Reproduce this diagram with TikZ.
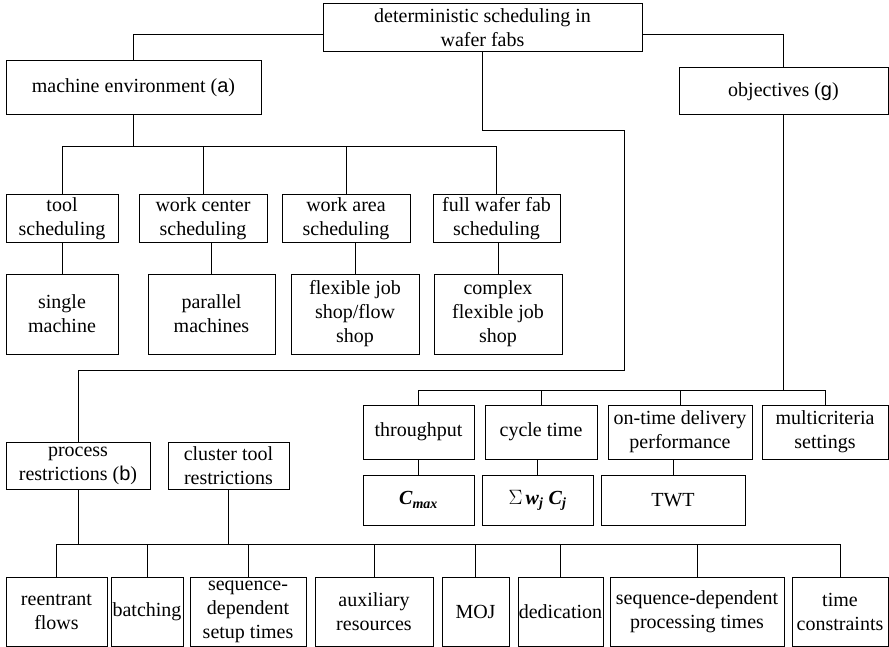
\documentclass[tikz,border=0pt]{standalone}
\usepackage{fontspec}
\setmainfont{Liberation Serif}
\newfontfamily\gkfont{Liberation Sans}
\usetikzlibrary{positioning,calc}

\begin{document}
\begin{tikzpicture}[x=1pt,y=-1pt,line width=1pt,
  box/.style={draw, align=center, inner sep=0pt,
    font=\fontsize{20}{24}\selectfont},
  bx/.style 2 args={box, minimum width=#1pt, minimum height=#2pt}]
  \useasboundingbox (0,0) rectangle (889,647);

  % root and first level
  \node[bx={319}{48}] (root) at (482.5,28) {deterministic scheduling in\\wafer fabs};
  \node[bx={255}{54}] (menv) at (133.5,88) {machine environment ({\gkfont a})};
  \node[bx={209}{47}] (obj) at (783.5,91.5) {objectives ({\gkfont g})};

  % machine environment
  \node[bx={112}{48}] (tool) at (62,219) {tool\\scheduling};
  \node[bx={128}{48}] (wcen) at (203,219) {work center\\scheduling};
  \node[bx={128}{48}] (warea) at (346,219) {work area\\scheduling};
  \node[bx={127}{48}] (full) at (496.5,219) {full wafer fab\\scheduling};
  \node[bx={112}{80}] (single) at (62,314) {single\\machine};
  \node[bx={127}{80}] (para) at (211.5,314) {parallel\\machines};
  \node[bx={128}{80}] (flex) at (355,314) {flexible job\\shop/flow\\shop};
  \node[bx={128}{80}] (cplx) at (498,314) {complex\\flexible job\\shop};

  % objectives
  \node[bx={111}{54}] (thru) at (418.5,432) {throughput};
  \node[bx={112}{54}] (cyc) at (541,432) {cycle time};
  \node[bx={144}{54}] (otd) at (680,432) {on-time delivery\\performance};
  \node[bx={126}{54}] (multi) at (825,432) {multicriteria\\settings};
  \node[bx={111}{50}] (cmax) at (418.5,500) {\textbf{\textit{C}}\textsubscript{\textbf{\textit{max}}}};
  \node[bx={111}{50}] (swc) at (537.5,500) {$\Sigma$\,\textbf{\textit{w}}\textsubscript{\textbf{\textit{j}}}\ \textbf{\textit{C}}\textsubscript{\textbf{\textit{j}}}};
  \node[bx={144}{50}] (twt) at (673,500) {TWT};

  % process restrictions
  \node[bx={144}{47}] (proc) at (78,465.5) {process\\restrictions ({\gkfont b})};
  \node[bx={121}{47}] (clus) at (228.5,465.5) {cluster tool\\restrictions};
  \node[bx={101}{69}] (reent) at (56.5,611.5) {reentrant\\flows};
  \node[bx={72}{69}] (batch) at (147,611.5) {batching};
  \node[bx={116}{69}] (setup) at (248,611.5) {sequence-\\dependent\\setup times};
  \node[bx={118}{69}] (aux) at (374,611.5) {auxiliary\\resources};
  \node[bx={67}{69}] (moj) at (475.5,611.5) {MOJ};
  \node[bx={85}{69}] (ded) at (560.5,611.5) {dedication};
  \node[bx={174}{69}] (sproc) at (697,611.5) {sequence-dependent\\processing times};
  \node[bx={96}{69}] (tcon) at (840,611.5) {time\\constraints};

  \coordinate (busA) at (0,147);
  \coordinate (busB) at (0,390);
  \coordinate (busC) at (0,544);
  \coordinate (k1) at (624,131);
  \coordinate (k2) at (624,370);

  % connectors
  \draw ([yshift=-7pt]root.west) -| (menv.north);
  \draw ([yshift=-7pt]root.east) -| (obj.north);
  \draw (root.south) |- (k1) -- (k2) -| (proc.north);

  \draw (menv.south) -- (menv.south |- busA);
  \draw (tool.north |- busA) -- (full.north |- busA);
  \foreach \c in {tool,wcen,warea,full}
    \draw (\c.north) -- (\c.north |- busA);

  \draw (obj.south) -- (obj.south |- busB);
  \draw (thru.north |- busB) -- (multi.north |- busB);
  \foreach \c in {thru,cyc,otd,multi}
    \draw (\c.north) -- (\c.north |- busB);

  \foreach \p/\c in {tool/single,wcen/para,warea/flex,full/cplx,thru/cmax,cyc/swc,otd/twt}
    \draw (\c.north) -- (\c.north |- \p.south);

  \draw (proc.south) -- (proc.south |- busC);
  \draw (clus.south) -- (clus.south |- busC);
  \draw (reent.north |- busC) -- (tcon.north |- busC);
  \foreach \c in {reent,batch,setup,aux,moj,ded,sproc,tcon}
    \draw (\c.north) -- (\c.north |- busC);
\end{tikzpicture}
\end{document}
